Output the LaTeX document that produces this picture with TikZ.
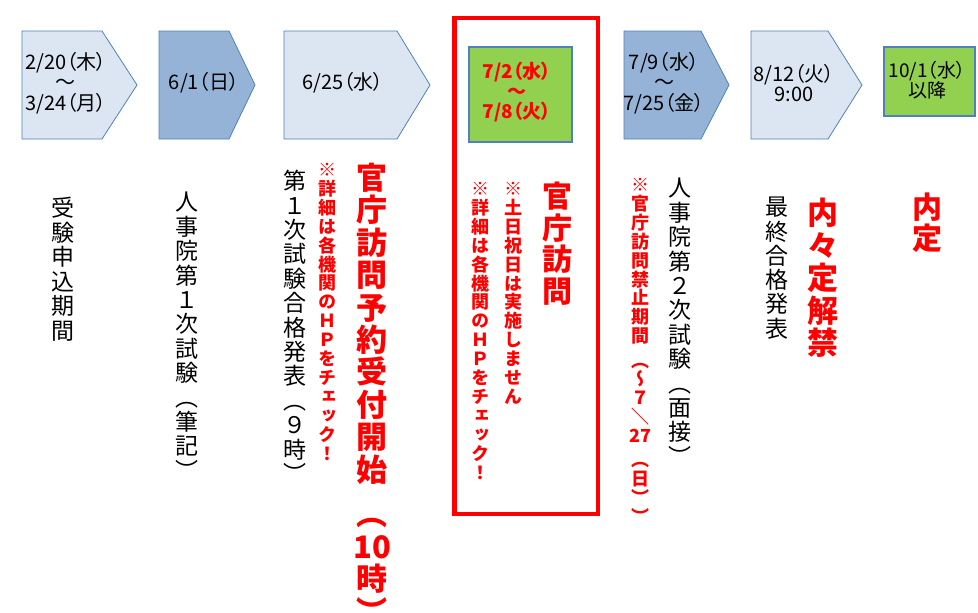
\documentclass[tikz,border=0pt]{standalone}
\usepackage{graphicx}
\usepackage{fontspec}
\newfontfamily\jp{Noto Sans CJK JP}
\newfontfamily\jph[RawFeature=+palt]{Noto Sans CJK JP}
\newfontfamily\jpv[RawFeature=+vert]{Noto Sans CJK JP}
\definecolor{lb}{HTML}{DCE6F2}
\definecolor{db}{HTML}{95B3D7}
\definecolor{bd}{HTML}{4F81BD}
\definecolor{gr}{HTML}{92D050}
\definecolor{rd}{HTML}{FF0000}
\makeatletter
\def\vitem#1#2\@nil{\ifx\vskip#1\vskip#2\relax\else\hbox to 1em{\hss#1#2\hss}\fi}
\newcommand\vstk[2]{\vbox{\baselineskip=#1\lineskiplimit=-\maxdimen\lineskip=0pt\@tfor\vv@c:=#2\do{\expandafter\vitem\vv@c\@empty\@nil}}}
\makeatother
\newcommand\bslash{\jp\reflectbox{／}}
\tikzset{
  arr/.style={draw=bd, line width=0.8pt},
  gbox/.style={draw=bd, line width=2pt, fill=gr},
  ht/.style={font=\jph\fontsize{20}{20.5}\selectfont, align=center, inner sep=0pt},
  htr/.style={font=\jph\bfseries\fontsize{19}{20}\selectfont, text=rd, align=center, inner sep=0pt},
  vn/.style={font=\jpv\fontsize{23}{24}\selectfont, inner sep=0pt, anchor=north},
  vrs/.style={font=\jpv\bfseries\fontsize{18}{19}\selectfont, text=rd, inner sep=0pt, anchor=north},
  vrb/.style={font=\jpv\bfseries\fontsize{31}{32}\selectfont, text=rd, inner sep=0pt, anchor=north},
}
\begin{document}
\begin{tikzpicture}[x=1pt,y=-1pt]
\useasboundingbox (0,0) rectangle (978,613);
\fill[white] (0,0) rectangle (978,613);
% timeline shapes
\draw[arr, fill=lb] (22,31) -- (102,31) -- (137,85) -- (102,139) -- (22,139) -- cycle;
\draw[arr, fill=db] (159,31) -- (229,31) -- (255,85) -- (229,139) -- (159,139) -- cycle;
\draw[arr, fill=lb] (284,31) -- (397,31) -- (430,85) -- (397,139) -- (284,139) -- cycle;
\draw[gbox] (469,47) rectangle (572,142);
\draw[arr, fill=db] (624,31) -- (701,31) -- (729,85) -- (701,139) -- (624,139) -- cycle;
\draw[arr, fill=lb] (751,31) -- (828,31) -- (862,85) -- (828,139) -- (751,139) -- cycle;
\draw[gbox] (884,47) rectangle (975,116);
\draw[rd, line width=4.5pt] (454.5,18) rectangle (598,514);
% dates
\node[ht] (d1) at (66,83) {2/20（木）\\～\\3/24（月）};
\node[ht] (d2) at (204,83) {6/1（日）};
\node[ht] (d3) at (343,83) {6/25（水）};
\node[htr] (d4) at (517,92) {7/2（水）\\～\\7/8（火）};
\node[ht] (d5) at (664,83) {7/9（水）\\～\\7/25（金）};
\node[ht] (d6) at (794,83) {8/12（火）\\9:00};
\node[ht, font=\jph\fontsize{19}{18}\selectfont] (d7) at (927,80) {10/1（水）\\以降};
% vertical texts
\node[vn] (v1) at (63,197) {\vstk{24.5pt}{受験申込期間}};
\node[vn] (v2) at (187,192) {\vstk{24.4pt}{人事院第１次試験（筆記）}};
\node[vn] (v3) at (295,170) {\vstk{24.4pt}{第１次試験合格発表（９時）}};
\node[vrs] (v4) at (327,163) {\vstk{18.9pt}{※詳細は各機関のＨＰをチェック！}};
\node[vrb] (v5) at (372,163) {\vstk{32.4pt}{官庁訪問予約受付開始{\vskip0.4em}（{10}時）}};
\node[vrb, font=\jpv\bfseries\fontsize{30}{31}\selectfont] (v6) at (557,182) {\vstk{31.5pt}{官庁訪問}};
\node[vrs] (v7) at (513,182) {\vstk{18.9pt}{※土日祝日は実施しません}};
\node[vrs] (v8) at (480,182) {\vstk{18.9pt}{※詳細は各機関のＨＰをチェック！}};
\node[vn] (v9) at (680,178) {\vstk{24.4pt}{人事院第２次試験（面接）}};
\node[vrs] (v10) at (640,178) {\vstk{18.9pt}{※官庁訪問禁止期間{\vskip0.3em}（～７\bslash{27}{\vskip0.3em}（日））}};
\node[vn] (v11) at (777,197) {\vstk{24.3pt}{最終合格発表}};
\node[vrb] (v12) at (823,198) {\vstk{32.5pt}{内々定解禁}};
\node[vrb, font=\jpv\bfseries\fontsize{30}{31}\selectfont] (v13) at (927,193) {\vstk{31pt}{内定}};
\end{tikzpicture}
\end{document}
